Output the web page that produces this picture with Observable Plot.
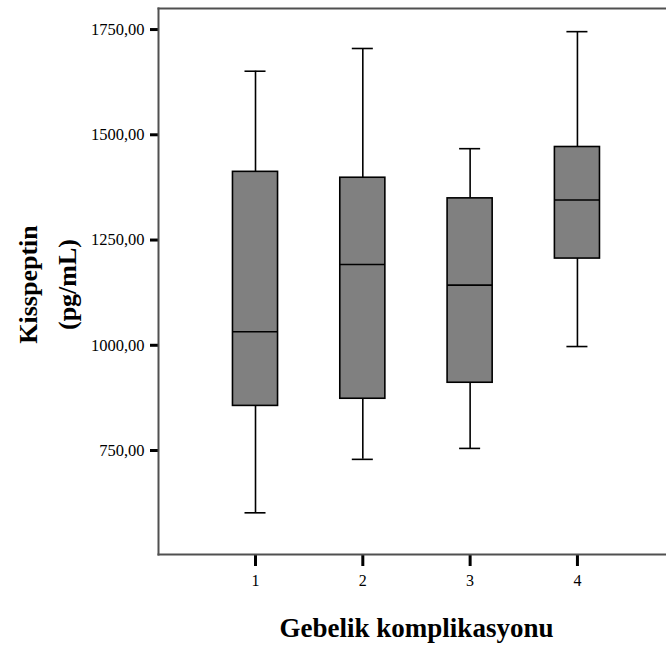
<!DOCTYPE html>
<html>
<head>
<meta charset="utf-8">
<script src="https://cdn.jsdelivr.net/npm/d3@7"></script>
<script src="https://cdn.jsdelivr.net/npm/@observablehq/plot@0.6"></script>
<style>
  html, body { margin: 0; padding: 0; background: white; }
  #chart { width: 666px; height: 645px; }
  #chart svg, #chart svg text { font-family: "Liberation Serif", "Times New Roman", serif !important; }
</style>
</head>
<body>
<div id="chart"></div>
<script>
// Categories (Gebelik komplikasyonu)
const groups = [1, 2, 3, 4];
// Box plot statistics (pg/mL)
const whiskerLow  = [602, 729, 755, 997];
const q1          = [856, 873, 911, 1206];
const median      = [1032, 1192, 1143, 1345];
const q3          = [1412, 1398, 1349, 1471];
const whiskerHigh = [1651, 1705, 1467, 1745];
// Axis ticks
const yTicks = [750, 1000, 1250, 1500, 1750];
const xTicks = [1, 2, 3, 4];
const yLabel = "Kisspeptin\n(pg/mL)";
const xLabel = "Gebelik komplikasyonu";

const data = groups.map((g, i) => ({
  group: g, low: whiskerLow[i], q1: q1[i], median: median[i], q3: q3[i], high: whiskerHigh[i]
}));

const serif = "'Liberation Serif', 'Times New Roman', serif";
const boxHalf = 0.21;
const capHalf = 0.098;
const fmt = d => d.toFixed(2).replace(".", ",");

const chart = Plot.plot({
  width: 666,
  height: 645,
  marginLeft: 158,
  marginRight: 0,
  marginTop: 8,
  marginBottom: 91,
  style: { fontFamily: serif, background: "white", color: "black" },
  x: { type: "linear", domain: [0.096, 4.83] },
  y: { domain: [503, 1800] },
  marks: [
    Plot.axisY({ ticks: yTicks, tickFormat: fmt, tickSize: 8, tickPadding: 6, strokeWidth: 3, stroke: "black", fill: "black", fontSize: 16.5, fontFamily: serif, label: null }),
    Plot.axisX({ ticks: xTicks, tickFormat: d => String(d), tickSize: 12, tickPadding: 8, strokeWidth: 3, stroke: "black", fill: "black", fontSize: 16, fontFamily: serif, label: null }),
    Plot.frame({ anchor: "left", stroke: "#505050", strokeWidth: 2 }),
    Plot.frame({ anchor: "top", stroke: "#505050", strokeWidth: 2 }),
    Plot.frame({ anchor: "bottom", stroke: "#505050", strokeWidth: 2 }),
    Plot.ruleX(data, { x: "group", y1: "low", y2: "q1", stroke: "black", strokeWidth: 1.6 }),
    Plot.ruleX(data, { x: "group", y1: "q3", y2: "high", stroke: "black", strokeWidth: 1.6 }),
    Plot.rect(data, { x1: d => d.group - boxHalf, x2: d => d.group + boxHalf, y1: "q1", y2: "q3", fill: "#808080", stroke: "black", strokeWidth: 1.6 }),
    Plot.ruleY(data, { y: "median", x1: d => d.group - boxHalf, x2: d => d.group + boxHalf, stroke: "black", strokeWidth: 1.6 }),
    Plot.ruleY(data, { y: "low", x1: d => d.group - capHalf, x2: d => d.group + capHalf, stroke: "black", strokeWidth: 1.6 }),
    Plot.ruleY(data, { y: "high", x1: d => d.group - capHalf, x2: d => d.group + capHalf, stroke: "black", strokeWidth: 1.6 }),
    Plot.text([yLabel], { text: d => d, frameAnchor: "left", dx: -114, dy: 3, rotate: -90, textAnchor: "middle", lineAnchor: "middle", lineHeight: 1.5, fontSize: 26, fontWeight: "bold", fontFamily: serif, fill: "black" }),
    Plot.text([xLabel], { text: d => d, frameAnchor: "bottom", dx: 4, dy: 74, textAnchor: "middle", lineAnchor: "middle", fontSize: 27, fontWeight: "bold", fontFamily: serif, fill: "black" })
  ]
});
document.getElementById("chart").appendChild(chart);
</script>
</body>
</html>
